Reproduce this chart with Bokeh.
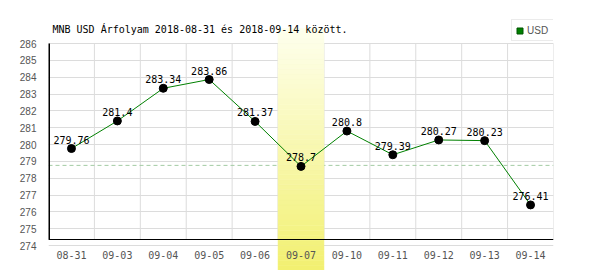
from bokeh.plotting import figure
from bokeh.models import (FactorRange, Range1d, FixedTicker, Span, Label, Legend,
                          LegendItem, CategoricalAxis, ColumnDataSource)
from bokeh.core.properties import value
from bokeh.embed import file_html
from bokeh.resources import INLINE

# ---- data ----
dates = ["08-31", "09-03", "09-04", "09-05", "09-06", "09-07",
         "09-10", "09-11", "09-12", "09-13", "09-14"]
rates = [279.76, 281.4, 283.34, 283.86, 281.37, 278.7,
         280.8, 279.39, 280.27, 280.23, 276.41]
rate_labels = ["279.76", "281.4", "283.34", "283.86", "281.37", "278.7",
               "280.8", "279.39", "280.27", "280.23", "276.41"]
y_ticks = list(range(274, 287))
highlight = "09-07"
ref_level = 278.76
title_text = "MNB USD Árfolyam 2018-08-31 és 2018-09-14 között."
series_name = "USD"

# ---- layout constants (style) ----
Y_BOTTOM, Y_TOP = 272.515, 288.555
AXIS_Y = 274.36
BAND_TOP = 286.89
MONO = "DejaVu Sans Mono"
SANS = "Liberation Sans"
GRID = "#dcdcdc"

p = figure(width=600, height=270,
           x_range=FactorRange(*dates),
           y_range=Range1d(Y_BOTTOM, Y_TOP),
           output_backend="svg", toolbar_location=None,
           x_axis_location=None, y_axis_location="left",
           min_border_left=48, min_border_right=47,
           min_border_top=0, min_border_bottom=0)
p.outline_line_color = None
p.background_fill_color = "white"

# y axis
yax = p.yaxis[0]
yax.ticker = FixedTicker(ticks=y_ticks)
yax.axis_line_color = None
yax.major_tick_line_color = None
yax.minor_tick_line_color = None
yax.major_label_standoff = 6
yax.major_label_text_font = SANS
yax.major_label_text_font_size = "10px"
yax.major_label_text_color = "#555555"

p.xgrid.visible = False
p.ygrid.ticker = FixedTicker(ticks=y_ticks)
p.ygrid.grid_line_color = GRID
p.ygrid.grid_line_width = 1

# reference dashed level
span = Span(location=ref_level, dimension="width", line_color="#a3cba3",
            line_dash="4 3", line_width=1, level="underlay")
p.add_layout(span)

# vertical grid lines at category boundaries
n = len(dates)
bounds = list(range(1, n + 1))
vg = p.segment(x0=bounds, y0=[AXIS_Y] * n, x1=bounds, y1=[y_ticks[-1]] * n,
               line_color=GRID, line_width=1)
vg.level = "underlay"

# highlight band (gradient via strips)
hi = dates.index(highlight)
steps = 48
c_top = (254, 255, 238)
c_bot = (242, 240, 112)
lefts, rights, tops, bots, cols = [], [], [], [], []
for i in range(steps):
    t0 = BAND_TOP - (BAND_TOP - Y_BOTTOM) * i / steps
    t1 = BAND_TOP - (BAND_TOP - Y_BOTTOM) * (i + 1) / steps
    f = (i + 0.5) / steps
    c = tuple(int(round(a + (b - a) * f)) for a, b in zip(c_top, c_bot))
    lefts.append(hi); rights.append(hi + 1); tops.append(t0); bots.append(t1)
    cols.append("#%02x%02x%02x" % c)
p.quad(left=lefts, right=rights, top=tops, bottom=bots, fill_color=cols,
       line_color=cols, line_width=0.5)

# y axis line
p.segment(x0=[0], y0=[AXIS_Y], x1=[0], y1=[y_ticks[-1]], line_color="black", line_width=3)

# x axis (inside frame)
xax = CategoricalAxis(fixed_location=AXIS_Y)
xax.axis_line_color = "black"
xax.axis_line_width = 1
xax.major_tick_line_color = None
xax.minor_tick_line_color = None
xax.major_label_standoff = 6
xax.major_label_text_font = MONO
xax.major_label_text_font_size = "10px"
xax.major_label_text_color = "#555555"
p.add_layout(xax, "below")

# data
src = ColumnDataSource(dict(x=dates, y=rates, t=rate_labels))
p.line("x", "y", source=src, line_color="#008000", line_width=1)
p.scatter("x", "y", source=src, size=8, fill_color="black", line_color="black")
p.text("x", "y", text="t", source=src, text_align="center", text_baseline="alphabetic",
       y_offset=-9, text_font=value(MONO), text_font_size="10px", text_color="black")

# legend marker renderer (invisible in plot: size 0)
r_leg = p.scatter("x", "y", source=src, marker="square", size=0,
                  fill_color="#008000", line_color="#005500", line_width=1)

# title
p.add_layout(Label(x=4, y=241.5, x_units="screen", y_units="screen", text=title_text,
                   text_font=MONO, text_font_size="10px", text_color="black",
                   text_baseline="alphabetic"))

# legend
legend = Legend(items=[LegendItem(label=series_name, renderers=[r_leg])],
                location=(463, 229), padding=0, margin=0, spacing=0,
                glyph_width=15, glyph_height=15, label_standoff=0,
                label_width=27, label_height=20,
                label_text_font=SANS, label_text_font_size="10px",
                label_text_color="#555555",
                border_line_color="#d8d8d8", border_line_width=1,
                background_fill_color="white", background_fill_alpha=1)
p.add_layout(legend, "center")

open("out.html", "w").write(file_html(p, INLINE))
